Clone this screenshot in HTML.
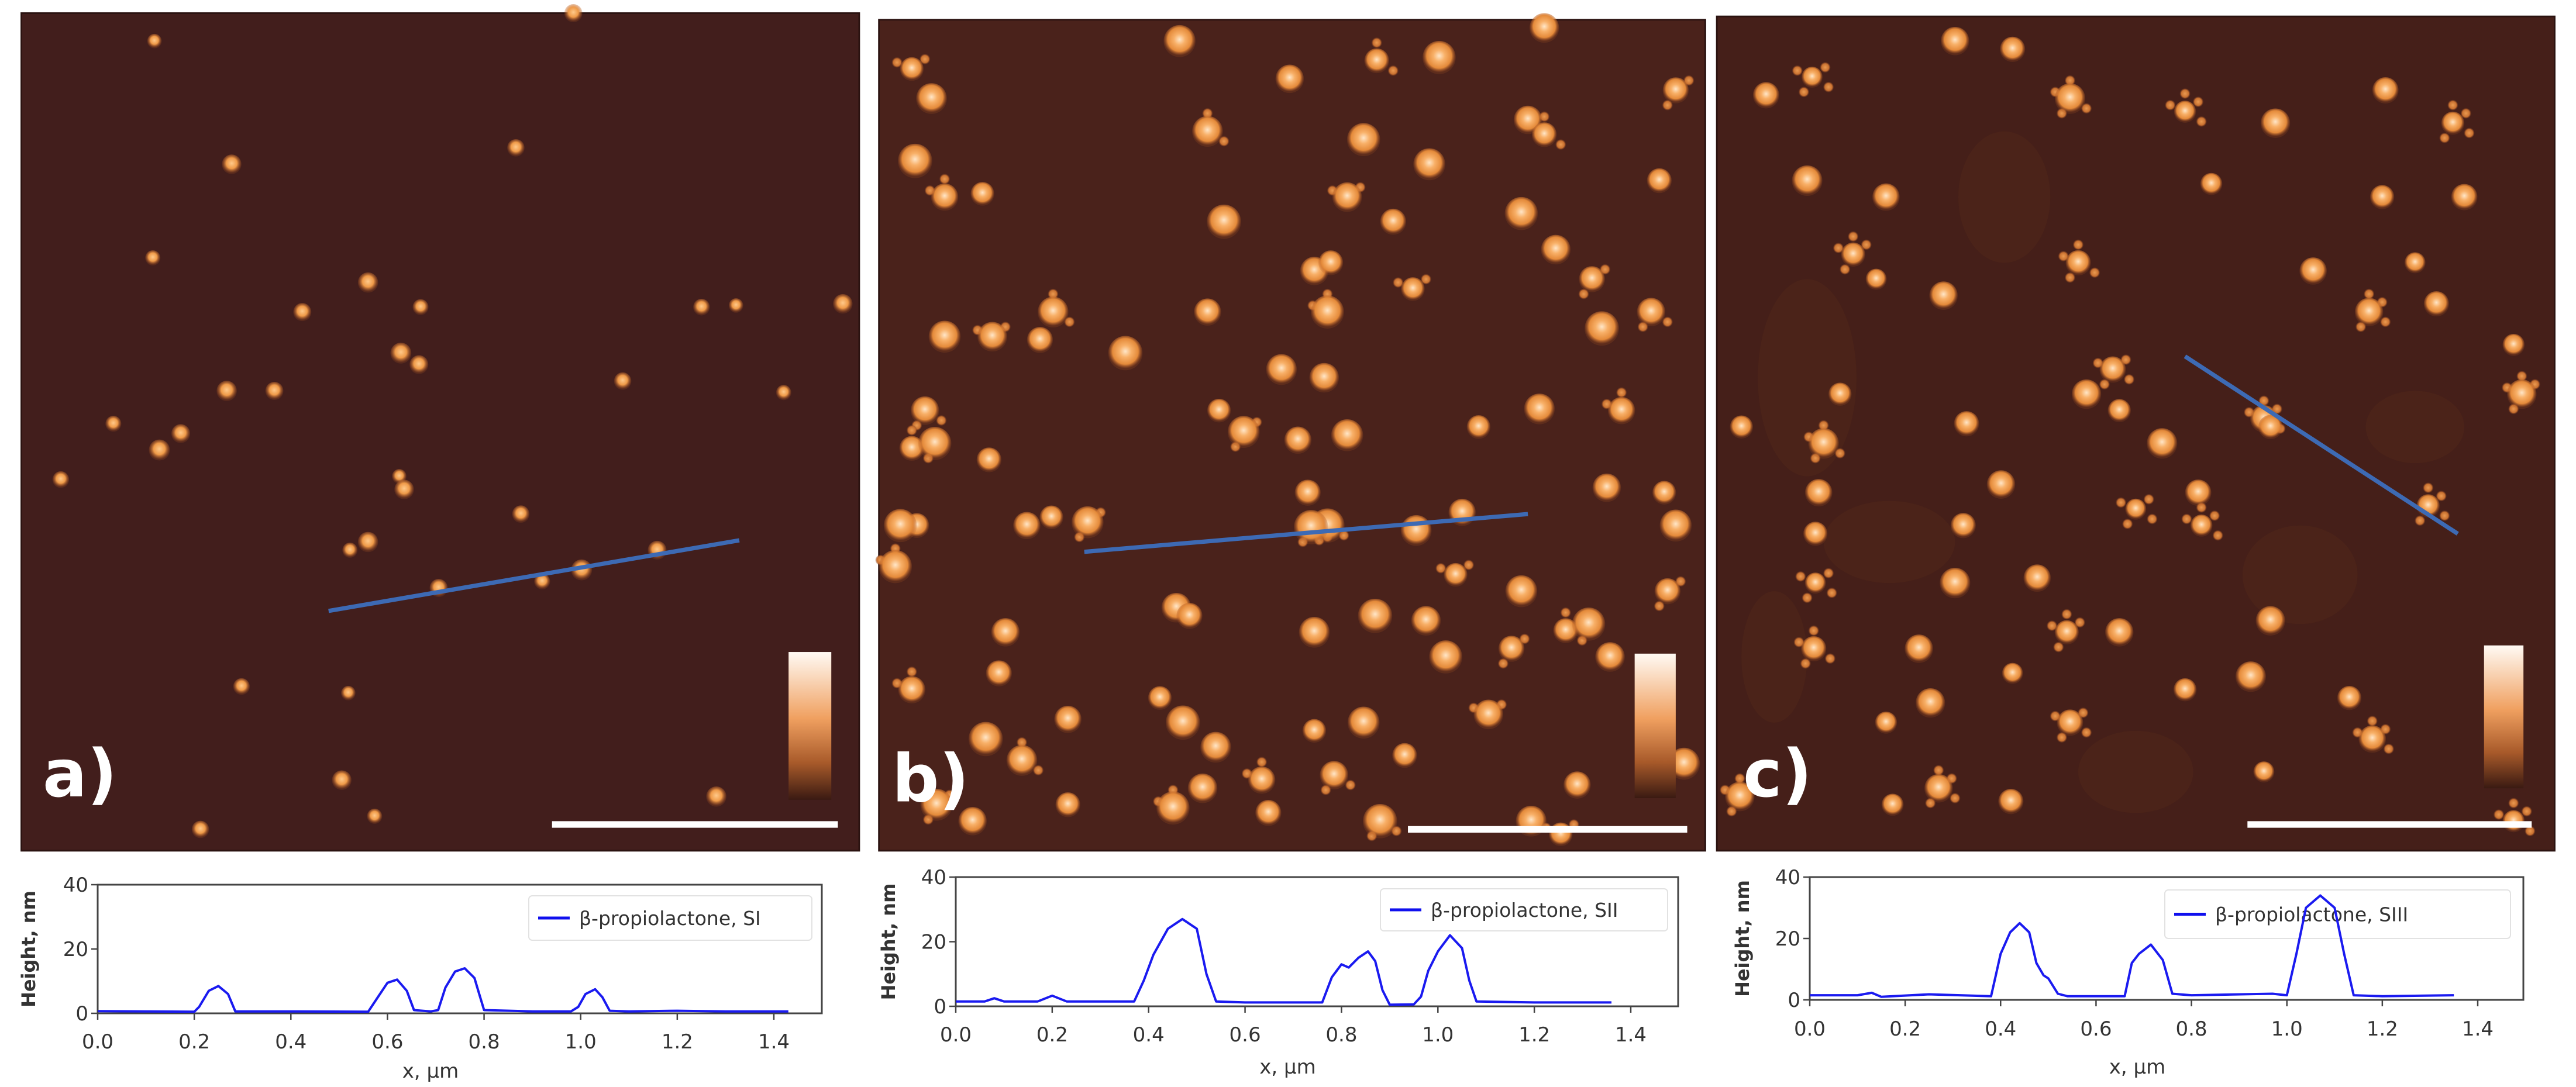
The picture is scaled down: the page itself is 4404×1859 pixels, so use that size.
<!DOCTYPE html>
<html><head><meta charset="utf-8">
<style>
html,body{margin:0;padding:0;background:#fff;}
svg{display:block;}
text{font-family:"DejaVu Sans","Liberation Sans",sans-serif;}
</style></head>
<body>
<svg id="fig" width="4404" height="1859" viewBox="0 0 4404 1859" xmlns="http://www.w3.org/2000/svg">
<defs>
  <radialGradient id="blobA" cx="50%" cy="45%" r="50%">
    <stop offset="0" stop-color="#ffc98a"/><stop offset="0.55" stop-color="#ef9a48"/><stop offset="1" stop-color="#b45a22" stop-opacity="0.2"/>
  </radialGradient>
  <radialGradient id="blobB" cx="50%" cy="45%" r="50%">
    <stop offset="0" stop-color="#ffe6c8"/><stop offset="0.35" stop-color="#f8b068"/><stop offset="0.75" stop-color="#e48a3a"/><stop offset="1" stop-color="#b05822" stop-opacity="0.2"/>
  </radialGradient>
  <radialGradient id="blobS" cx="50%" cy="50%" r="50%">
    <stop offset="0" stop-color="#eb9a50"/><stop offset="0.7" stop-color="#c87030"/><stop offset="1" stop-color="#8a4420" stop-opacity="0.2"/>
  </radialGradient>
  <linearGradient id="cbar" x1="0" y1="0" x2="0" y2="1">
    <stop offset="0" stop-color="#fffaf4"/><stop offset="0.45" stop-color="#f0a060"/><stop offset="0.75" stop-color="#a85a2a"/><stop offset="1" stop-color="#3a1a12"/>
  </linearGradient>
</defs>
<g id="images" transform="scale(2.8087)"></g>
<g id="charts"></g>
</svg>
<script>
const NS="http://www.w3.org/2000/svg";
function mk(tag,attrs,parent){const e=document.createElementNS(NS,tag);for(const k in attrs)e.setAttribute(k,attrs[k]);parent.appendChild(e);return e;}

const blobsA=[[94,25],[141,100],[314,90],[93,157],[224,172],[184,190],[256,187],[244,215],[255,222],[427,187],[448,186],[513,185],[379,232],[477,239],[138,238],[167,238],[69,258],[97,274],[110,264],[37,292],[243,290],[246,298],[317,313],[213,335],[224,330],[267,358],[330,354],[354,347],[400,335],[147,418],[212,422],[208,475],[122,505],[228,497],[436,485],[349,8]];
const blobsB=[[555,42],[718,25],[785,48],[838,37],[876,35],[940,17],[1020,55],[557,98],[567,60],[575,120],[598,118],[575,205],[563,250],[558,320],[548,320],[604,205],[633,207],[685,215],[641,190],[735,190],[742,250],[757,263],[800,165],[810,160],[808,190],[806,230],[796,300],[808,320],[780,225],[790,268],[860,176],[870,100],[930,73],[940,82],[926,130],[947,152],[969,170],[975,200],[937,249],[987,250],[1013,300],[1020,320],[1005,190],[1010,110],[830,85],[820,120],[848,135],[745,135],[735,80],[625,320],[640,315],[662,318],[612,385],[602,280],[545,345],[716,370],[724,375],[798,321],[862,323],[890,312],[886,350],[926,360],[978,297],[953,384],[967,380],[980,400],[1015,360],[720,440],[740,455],[768,475],[800,445],[830,440],[812,472],[855,460],[880,400],[906,435],[608,410],[600,450],[622,463],[650,438],[706,425],[570,490],[592,500],[650,490],[714,492],[732,480],[772,495],[840,500],[932,500],[960,478],[950,508],[1025,465],[1010,420],[555,273],[569,270],[868,378],[920,395],[837,375],[800,385],[555,420],[900,260],[820,265]];
const blobsC=[[1103,47],[1190,25],[1225,30],[1330,68],[1385,75],[1452,55],[1493,75],[1100,110],[1148,120],[1128,155],[1142,170],[1183,180],[1265,160],[1346,112],[1270,240],[1286,225],[1290,250],[1316,270],[1378,255],[1382,260],[1470,160],[1442,190],[1483,185],[1530,210],[1535,240],[1500,120],[1120,240],[1110,270],[1107,300],[1105,325],[1105,355],[1218,295],[1195,320],[1340,320],[1382,378],[1338,300],[1478,308],[1190,355],[1240,352],[1258,385],[1225,410],[1290,385],[1104,395],[1148,440],[1175,428],[1260,440],[1330,420],[1370,412],[1444,450],[1430,425],[1378,470],[1180,480],[1224,488],[1152,490],[1059,485],[1075,58],[1060,260],[1260,60],[1408,165],[1450,120],[1300,310],[1168,395],[1197,258],[1530,500]];

const satOff=[[-9,-4],[8,-6],[-5,9],[10,6],[0,-11]];
const panels=[
 {id:'a',x:13,y:8,w:510,h:510,bg:'#421e1c',blobs:blobsA,r:5.5,grad:'blobA',sat:0,line:[200,372,450,329],cb:[480,397,26,90],sb:[336,510,502],lab:[26,485]},
 {id:'b',x:535,y:12,w:503,h:506,bg:'#4a221b',blobs:blobsB,r:9,grad:'blobB',sat:2,line:[660,336,930,313],cb:[995,398,25,88],sb:[857,1027,505],lab:[543,488]},
 {id:'c',x:1045,y:10,w:510,h:508,bg:'#451f19',blobs:blobsC,r:8,grad:'blobB',sat:4,line:[1330,217,1496,325],cb:[1512,393,24,87],sb:[1368,1541,502],lab:[1061,485]}
];
const G=document.getElementById('images');
panels.forEach(p=>{
  const g=mk('g',{},G);
  
  
  mk('rect',{x:p.x,y:p.y,width:p.w,height:p.h,fill:p.bg,stroke:'#2a1210','stroke-width':1},g);
  if(p.id==='c'){
    [[1100,230,30,60],[1150,330,40,25],[1400,350,35,30],[1220,120,28,40],[1470,260,30,22],[1080,400,20,40],[1300,470,35,25]].forEach(e=>{
      const el=mk('ellipse',{cx:e[0],cy:e[1],rx:e[2],ry:e[3],fill:'#502719',opacity:0.6},g);
      
      
    });
  }
  p.blobs.forEach((b,i)=>{
    if(p.sat && i%3===0){
      for(let k=0;k<p.sat;k++){
        const o=satOff[(i+k)%5];
        const s=mk('circle',{cx:b[0]+o[0],cy:b[1]+o[1],r:3.2,fill:'url(#blobS)'},g);
        
        
      }
    }
  });
  p.blobs.forEach((b,i)=>{
    const rr=p.r*(0.8+((i*37)%10)/25);
    const c=mk('circle',{cx:b[0],cy:b[1],r:rr,fill:'url(#'+p.grad+')'},g);
    
    
  });
  const ln=mk('line',{x1:p.line[0],y1:p.line[1],x2:p.line[2],y2:p.line[3],stroke:'#3d6ab4','stroke-width':2.6},g);
  
  
  const cb=mk('rect',{x:p.cb[0],y:p.cb[1],width:p.cb[2],height:p.cb[3],fill:'url(#cbar)'},g);
  
  
  const sb=mk('line',{x1:p.sb[0],y1:p.sb[2],x2:p.sb[1],y2:p.sb[2],stroke:'#fff','stroke-width':4},g);
  
  
  const t=mk('text',{x:p.lab[0],y:p.lab[1],fill:'#fff','font-size':40,'font-weight':'bold'},g);
  t.textContent=p.id+')';
  
  
});

const xTicks=[0,0.2,0.4,0.6,0.8,1.0,1.2,1.4];
const yTicks=[0,20,40];
const xA=[0,0.1,0.2,0.21,0.23,0.25,0.27,0.285,0.4,0.56,0.58,0.60,0.62,0.64,0.655,0.69,0.705,0.72,0.74,0.76,0.78,0.79,0.80,0.9,0.98,0.995,1.01,1.03,1.045,1.06,1.1,1.2,1.3,1.43];
const yA=[0.7,0.6,0.5,2,7,8.5,6,0.6,0.6,0.5,5,9.5,10.5,7,1,0.6,1,8,13,14,11,6,1,0.6,0.6,2,6,7.5,5,0.8,0.6,0.8,0.6,0.6];
const xB=[0,0.06,0.08,0.1,0.17,0.2,0.23,0.3,0.37,0.39,0.41,0.44,0.47,0.5,0.52,0.54,0.6,0.7,0.76,0.78,0.8,0.815,0.835,0.855,0.87,0.885,0.9,0.95,0.965,0.98,1.0,1.025,1.05,1.065,1.08,1.2,1.36];
const yB=[1.5,1.5,2.5,1.5,1.5,3.3,1.5,1.5,1.5,8,16,24,27,24,10,1.5,1.2,1.2,1.2,9,13,12,15,17,14,5,0.5,0.6,3,11,17,22,18,8,1.5,1.2,1.2];
const xC=[0,0.1,0.13,0.15,0.25,0.38,0.39,0.40,0.42,0.44,0.46,0.475,0.49,0.50,0.52,0.54,0.66,0.675,0.69,0.715,0.74,0.76,0.8,0.97,1.0,1.02,1.04,1.07,1.10,1.12,1.14,1.2,1.35];
const yC=[1.5,1.5,2.3,1,1.8,1.2,8,15,22,25,22,12,8,7,2,1.2,1.2,12,15,18,13,2,1.5,2,1.5,15,30,34,30,15,1.5,1.2,1.5];
const legendLabels=['β-propiolactone, SI','β-propiolactone, SII','β-propiolactone, SIII'];

const charts=[
 {id:'a',left:167,right:1405,x14:1323,top:1513,zero:1733,tickY:1793,xlabY:1843,ylabX:60,leg:[904,1532,484,76],xs:xA,ys:yA,lab:legendLabels[0]},
 {id:'b',left:1634,right:2869,x14:2788,top:1500,zero:1721,tickY:1781,xlabY:1836,ylabX:1530,leg:[2360,1520,491,72],xs:xB,ys:yB,lab:legendLabels[1]},
 {id:'c',left:3094,right:4314,x14:4236,top:1500,zero:1710,tickY:1771,xlabY:1836,ylabX:2990,leg:[3701,1522,591,83],xs:xC,ys:yC,lab:legendLabels[2]}
];
const C=document.getElementById('charts');
charts.forEach(c=>{
  const xs=x=>c.left+x*(c.x14-c.left)/1.4;
  const ys=y=>c.zero+y*(c.top-c.zero)/40;
  const g=mk('g',{},C);
  
  
  const fr=mk('rect',{x:c.left,y:c.top,width:c.right-c.left,height:c.zero-c.top,fill:'#fff',stroke:'#444','stroke-width':3},g);
  
  
  xTicks.forEach(v=>{
    const X=xs(v);
    const tk=mk('line',{x1:X,y1:c.zero,x2:X,y2:c.zero+11,stroke:'#444','stroke-width':2.5},g);
    
    
    const t=mk('text',{x:X,y:c.tickY,'text-anchor':'middle','font-size':34,fill:'#333'},g);
    t.textContent=v.toFixed(1);
    
    
  });
  yTicks.forEach(v=>{
    const Y=ys(v);
    const tk=mk('line',{x1:c.left-11,y1:Y,x2:c.left,y2:Y,stroke:'#444','stroke-width':2.5},g);
    
    
    const t=mk('text',{x:c.left-16,y:Y+12,'text-anchor':'end','font-size':34,fill:'#333'},g);
    t.textContent=v;
    
    
  });
  const yl=mk('text',{x:0,y:0,'text-anchor':'middle','font-size':32,'font-weight':'bold',fill:'#333',transform:'translate('+c.ylabX+','+((c.top+c.zero)/2)+') rotate(-90)'},g);
  yl.textContent='Height, nm';
  
  
  const xl=mk('text',{x:(c.left+c.right)/2-50,y:c.xlabY,'text-anchor':'middle','font-size':34,fill:'#333'},g);
  xl.textContent='x, µm';
  
  
  const lg=mk('rect',{x:c.leg[0],y:c.leg[1],width:c.leg[2],height:c.leg[3],rx:6,fill:'#fff',stroke:'#ddd','stroke-width':2,opacity:0.85},g);
  
  
  const ly=c.leg[1]+c.leg[3]/2;
  const ll=mk('line',{x1:c.leg[0]+16,y1:ly,x2:c.leg[0]+70,y2:ly,stroke:'#1010ee','stroke-width':5},g);
  
  
  const lt=mk('text',{x:c.leg[0]+86,y:ly+12,'font-size':33,fill:'#333'},g);
  lt.textContent=c.lab;
  
  
  const d=c.xs.map((x,i)=>(i?'L':'M')+xs(x).toFixed(1)+','+ys(c.ys[i]).toFixed(1)).join(' ');
  const pl=mk('path',{d:d,fill:'none',stroke:'#1a1af0','stroke-width':4,'stroke-linejoin':'round'},g);
  
  
});
</script>
</body></html>
